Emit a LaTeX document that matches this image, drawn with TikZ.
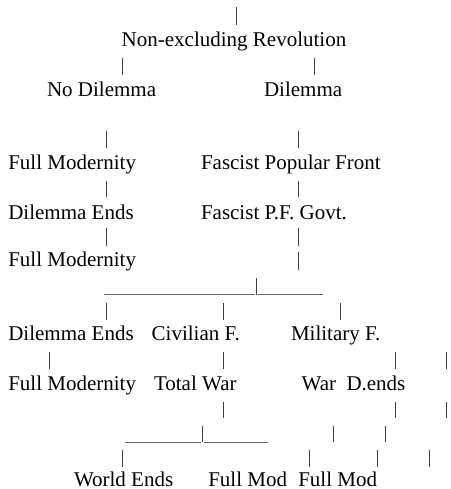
\documentclass[tikz,border=0pt]{standalone}
\usepackage{fontspec}
\setmainfont{Liberation Serif}
\begin{document}
\begin{tikzpicture}[x=1pt,y=-1pt,
  lbl/.style={anchor=base west,inner sep=0pt,outer sep=0pt,font=\fontsize{21}{24}\selectfont,text=black},
  bar/.style={draw=black!75,line width=0.8pt},
  rule/.style={draw=black!60,line width=0.9pt}]
\useasboundingbox (0,0) rectangle (450,489);
% texts
\node[lbl] (ner) at (121.7,46.5) {Non-excluding Revolution};
\node[lbl] (nod) at (47,96.5) {No Dilemma};
\node[lbl] (dil) at (264,96.5) {Dilemma};
\node[lbl] (fm1) at (8.3,169.5) {Full Modernity};
\node[lbl] (fpf) at (201,169.5) {Fascist Popular Front};
\node[lbl] (de1) at (8.3,219.3) {Dilemma Ends};
\node[lbl] (fpg) at (201,219.3) {Fascist P.F. Govt.};
\node[lbl] (fm2) at (8.3,266.7) {Full Modernity};
\node[lbl] (de2) at (8.3,340) {Dilemma Ends};
\node[lbl] (civ) at (151.7,340) {Civilian F.};
\node[lbl] (mil) at (291,340) {Military F.};
\node[lbl] (fm3) at (8.3,390) {Full Modernity};
\node[lbl] (tw) at (154,390) {Total War};
\node[lbl] (war) at (301.7,390) {War};
\node[lbl] (dends) at (346.5,390) {D.ends};
\node[lbl] (we) at (74,486) {World Ends};
\node[lbl] (fmA) at (208.3,486) {Full Mod};
\node[lbl] (fmB) at (298.3,486) {Full Mod};
% vertical bars
\foreach \x/\a/\b in {236/7/25,
  122.7/58/75, 314.3/58/75,
  106.7/131/148, 298.3/131/148,
  106.7/181/197, 298.3/181/197,
  106.7/228/246, 298.3/228/246,
  298.3/252/270,
  256.5/278/295,
  106.7/302.7/320, 223.3/302.7/320, 340/302.7/320,
  49.3/351.7/369, 223.3/351.7/369, 395/351.7/369, 446.7/351.7/369,
  223.3/401.7/418, 395/401.7/418, 446.7/401.7/418,
  202/426/442, 333.3/426/442, 385.7/426/442,
  122.5/450/467, 309/450/467, 377/450/467, 429.3/450/467}
  \draw[bar] (\x,\a) -- (\x,\b);
% underscore rules
\draw[rule] (104,294) -- (254.5,294);
\draw[rule] (258,294) -- (322.5,294);
\draw[rule] (125,442) -- (200.5,442);
\draw[rule] (204,442) -- (267.5,442);
\end{tikzpicture}
\end{document}
